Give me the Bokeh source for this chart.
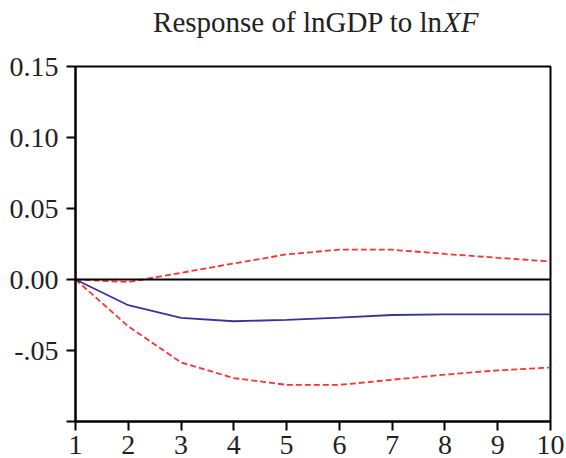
from bokeh.plotting import figure
from bokeh.models import FixedTicker, Span
from bokeh.layouts import column
from bokeh.core.properties import value
from bokeh.embed import file_html
from bokeh.resources import INLINE

periods = [1, 2, 3, 4, 5, 6, 7, 8, 9, 10]
response = [0.0, -0.0181, -0.0270, -0.0294, -0.0285, -0.0268, -0.0250, -0.0245, -0.0245, -0.0245]
upper = [0.0, -0.0018, 0.0047, 0.0113, 0.0177, 0.0210, 0.0210, 0.0180, 0.0153, 0.0127]
lower = [0.0, -0.0330, -0.0584, -0.0694, -0.0742, -0.0742, -0.0706, -0.0670, -0.0640, -0.0620]

y_ticks = [-0.10, -0.05, 0.0, 0.05, 0.10, 0.15]
y_tick_labels = ["", "-.05", "0.00", "0.05", "0.10", "0.15"]
x_ticks = [1, 2, 3, 4, 5, 6, 7, 8, 9, 10]
title_main = "Response of lnGDP to ln"
title_italic = "XF"

FONT = "Liberation Serif"

# title strip (separate canvas so the mixed-style title is real text)
t = figure(width=566, height=46, x_range=(0, 566), y_range=(0, 46),
           x_axis_type=None, y_axis_type=None,
           output_backend="svg", toolbar_location=None, min_border=0)
t.grid.visible = False
t.outline_line_color = None
t.background_fill_color = "white"
t.border_fill_color = "white"
t.text(x=[438], y=[25], text=[title_main], text_align="right", text_baseline="alphabetic",
       text_font=value(FONT), text_font_size="29px", text_color="#222222")
t.text(x=[438], y=[25], text=[title_italic], text_align="left", text_baseline="alphabetic",
       text_font=value(FONT), text_font_size="29px", text_font_style="italic",
       text_color="#222222")

p = figure(frame_width=475, frame_height=355,
           x_range=(1, 10), y_range=(-0.10, 0.15),
           output_backend="svg", toolbar_location=None,
           min_border_left=75, min_border_top=20, min_border_right=16, min_border_bottom=37)
p.background_fill_color = "white"
p.border_fill_color = "white"
p.outline_line_color = "black"
p.outline_line_width = 2
p.xgrid.visible = False
p.ygrid.visible = False

for ax in (p.xaxis[0], p.yaxis[0]):
    ax.axis_line_color = "black"
    ax.axis_line_width = 2
    ax.major_tick_line_color = "black"
    ax.major_tick_line_width = 2
    ax.major_tick_out = 9
    ax.major_tick_in = 0
    ax.minor_tick_line_color = None
    ax.major_label_text_font = FONT
    ax.major_label_text_font_size = "28px"
    ax.major_label_text_color = "#222222"

p.yaxis.ticker = FixedTicker(ticks=y_ticks)
p.yaxis.major_label_overrides = {t_: l for t_, l in zip(y_ticks, y_tick_labels)}
p.yaxis.major_label_standoff = 8
p.xaxis.ticker = FixedTicker(ticks=x_ticks)
p.xaxis.major_label_standoff = 5

p.add_layout(Span(location=0, dimension="width", line_color="black", line_width=2))

p.line(periods, upper, line_color="#ff3030", line_width=1.8, line_dash="6 3")
p.line(periods, lower, line_color="#ff3030", line_width=1.8, line_dash="6 3")
p.line(periods, response, line_color="#3434a0", line_width=1.8)

layout = column(t, p, spacing=0)
open("out.html", "w").write(file_html(layout, INLINE))
